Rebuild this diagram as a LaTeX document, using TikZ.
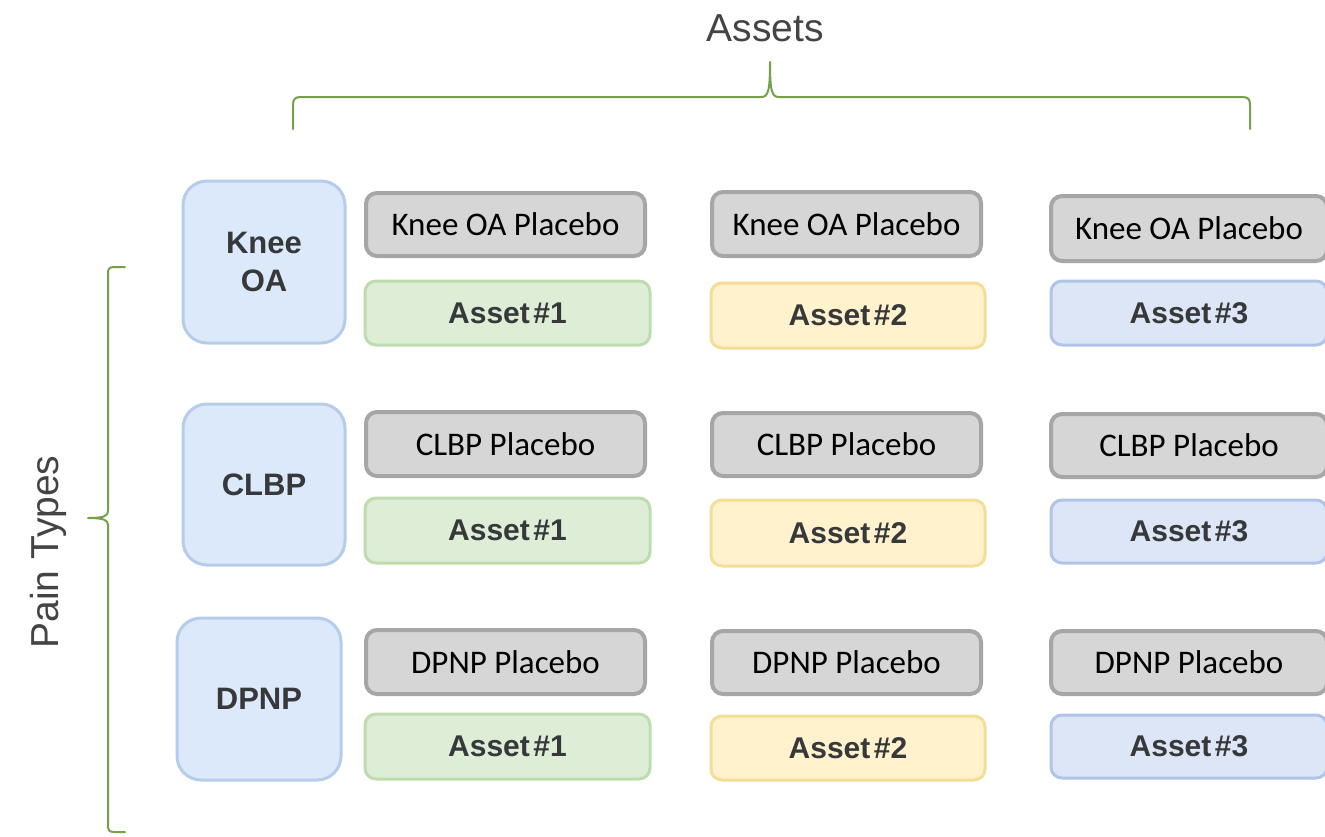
\documentclass[tikz,border=0pt]{standalone}
\usepackage{fontspec}
\setmainfont{Liberation Sans}
\newfontfamily\carl{Carlito}
\definecolor{bluefill}{HTML}{DCE9FA}
\definecolor{bluedraw}{HTML}{B5CDEA}
\definecolor{greyfill}{HTML}{D6D6D6}
\definecolor{greydraw}{HTML}{A6A6A6}
\definecolor{greenfill}{HTML}{DDEDD6}
\definecolor{greendraw}{HTML}{BEDCAE}
\definecolor{yellowfill}{HTML}{FFF2CD}
\definecolor{yellowdraw}{HTML}{F6DD95}
\definecolor{assetbluefill}{HTML}{DCE6F6}
\definecolor{assetbluedraw}{HTML}{AFC4E6}
\definecolor{bracegreen}{HTML}{76A04B}
\definecolor{darktext}{HTML}{36383A}
\definecolor{labeltext}{HTML}{444444}
\tikzset{
  paintype/.style={draw=bluedraw, fill=bluefill, line width=3pt, rounded corners=24pt,
    minimum width=162pt, minimum height=162pt, align=center, text=darktext,
    font=\bfseries\fontsize{31}{38}\selectfont, inner sep=0pt},
  placebo/.style={draw=greydraw, fill=greyfill, line width=4pt, rounded corners=11pt,
    minimum height=63pt, text=black, font=\carl\fontsize{33}{36}\selectfont, inner sep=0pt},
  asset/.style={line width=3pt, rounded corners=11pt, minimum height=64pt, text=darktext,
    font=\bfseries\fontsize{30}{34}\selectfont, inner sep=0pt},
  assetA/.style={asset, draw=greendraw, fill=greenfill, minimum width=285pt},
  assetB/.style={asset, draw=yellowdraw, fill=yellowfill, minimum width=274pt},
  assetC/.style={asset, draw=assetbluedraw, fill=assetbluefill, minimum width=276pt},
  brace/.style={draw=bracegreen, line width=2pt, line cap=round, line join=round},
  biglabel/.style={text=labeltext, font=\fontsize{39}{44}\selectfont, inner sep=0pt}
}
\newcommand{\assetlbl}[1]{Asset\hspace{0.12em}\##1}
\begin{document}
\begin{tikzpicture}[x=1pt,y=-1pt]
\path[use as bounding box, fill=white] (0,0) rectangle (1325,836);

% titles
\node[biglabel] (assets) at (765,28) {Assets};
\node[biglabel, rotate=90] (pain) at (48,552) {Pain Types};

% braces
\draw[brace] (293,129) -- (293,105) .. controls (293,99) and (295,97) .. (301,97)
  -- (761,97) .. controls (768,97) and (770,92) .. (770,62)
  .. controls (770,92) and (772,97) .. (779,97)
  -- (1242,97) .. controls (1248,97) and (1250,99) .. (1250,105) -- (1250,129);
\draw[brace] (125,267) -- (114,267) .. controls (109,267) and (108,269) .. (108,274)
  -- (108,511) .. controls (108,516) and (104,518) .. (88,518)
  .. controls (104,518) and (108,520) .. (108,525)
  -- (108,825) .. controls (108,830) and (109,832) .. (114,832) -- (125,832);

% pain type boxes
\node[paintype] (koa) at (264,262) {Knee\\OA};
\node[paintype, minimum height=161pt] (clbp) at (264,484.5) {CLBP};
\node[paintype, minimum width=164pt] (dpnp) at (259,699) {DPNP};

% column 1
\node[placebo, minimum width=279pt] (p11) at (505.5,224.5) {Knee OA Placebo};
\node[assetA] (a11) at (507.5,313) {\assetlbl{1}};
\node[placebo, minimum width=279pt, minimum height=64pt] (p21) at (505.5,444) {CLBP Placebo};
\node[assetA, minimum height=65pt] (a21) at (507.5,530.5) {\assetlbl{1}};
\node[placebo, minimum width=279pt, minimum height=64pt] (p31) at (505.5,662) {DPNP Placebo};
\node[assetA, minimum height=65pt] (a31) at (507.5,746.5) {\assetlbl{1}};

% column 2
\node[placebo, minimum width=269pt, minimum height=64pt] (p12) at (846.5,224) {Knee OA Placebo};
\node[assetB, minimum height=65pt] (a12) at (848,315.5) {\assetlbl{2}};
\node[placebo, minimum width=269pt] (p22) at (846.5,444.5) {CLBP Placebo};
\node[assetB, minimum height=66pt] (a22) at (848,533) {\assetlbl{2}};
\node[placebo, minimum width=269pt] (p32) at (846.5,662.5) {DPNP Placebo};
\node[assetB] (a32) at (848,748) {\assetlbl{2}};

% column 3
\node[placebo, minimum width=276pt, minimum height=65pt] (p13) at (1189,228.5) {Knee OA Placebo};
\node[assetC] (a13) at (1189,313) {\assetlbl{3}};
\node[placebo, minimum width=276pt] (p23) at (1189,445.5) {CLBP Placebo};
\node[assetC, minimum height=63pt] (a23) at (1189,531.5) {\assetlbl{3}};
\node[placebo, minimum width=276pt] (p33) at (1189,662.5) {DPNP Placebo};
\node[assetC, minimum height=63pt] (a33) at (1189,746.5) {\assetlbl{3}};
\end{tikzpicture}
\end{document}
